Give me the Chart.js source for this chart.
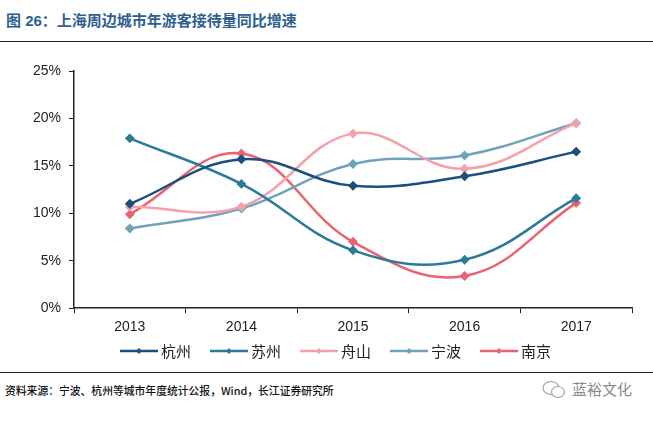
<!DOCTYPE html>
<html>
<head>
<meta charset="utf-8">
<script src="https://cdn.jsdelivr.net/npm/chart.js@4.4.0/dist/chart.umd.min.js"></script>
<style>
    body { margin: 0; width: 653px; height: 421px; background: #fff; position: relative; overflow: hidden;
           font-family: "Liberation Sans", Arial, "Noto Sans CJK SC", sans-serif; }
    .title { position: absolute; left: 6px; top: 9px; font-size: 15px; font-weight: bold; color: #2f5f8f;
             font-family: "Liberation Sans", "Noto Sans CJK SC", sans-serif; }
    .rule { position: absolute; left: 0; width: 653px; height: 1px; background: #222; }
    .chart-box { position: absolute; left: 0; top: 45px; width: 653px; height: 299px; }
    .legend { position: absolute; top: 340px; left: 0; width: 635px; padding-left: 18px; display: flex; justify-content: center;
              font-size: 15px; color: #222; font-family: "Noto Sans CJK SC", sans-serif; }
    .legend .item { display: flex; align-items: center; margin: 0 9.5px; }
    .legend svg { margin-right: 3px; }
    .source { position: absolute; left: 5px; top: 382px; font-size: 10.8px; font-weight: 500; color: #111;
              font-family: "Noto Sans CJK SC", sans-serif; }
    .icon { position: absolute; left: 541px; top: 380px; }
    .mark { position: absolute; left: 572px; top: 378px; font-size: 15px; color: #8a8a8a;
            font-family: "Noto Sans CJK SC", sans-serif; }
</style>
</head>
<body>
<div class="title">图 26：上海周边城市年游客接待量同比增速</div>
<div class="rule" style="top:41px"></div>
<div class="chart-box"><canvas id="growthChart"></canvas></div>
<div class="legend" id="legend"></div>
<div class="rule" style="top:372px"></div>
<div class="source">资料来源：宁波、杭州等城市年度统计公报，Wind，长江证券研究所</div>
<svg class="icon" width="26" height="20">
    <ellipse cx="10" cy="8" rx="8" ry="6.5" fill="none" stroke="#a0a0a0" stroke-width="1.2"/>
    <ellipse cx="17" cy="12" rx="6.5" ry="5.5" fill="#fff" stroke="#a0a0a0" stroke-width="1.2"/>
</svg>
<div class="mark">蓝裕文化</div>
<script>
const years = ['2013', '2014', '2015', '2016', '2017'];
const cities = ['杭州', '苏州', '舟山', '宁波', '南京'];
const colors = ['#1c4f7c', '#2b7b98', '#f2a2aa', '#6fa3bb', '#e8646f'];

const hangzhou = [11.0, 15.7, 12.9, 13.9, 16.5];
const suzhou   = [17.9, 13.1, 6.1, 5.1, 11.6];
const zhoushan = [10.7, 10.7, 18.4, 14.7, 19.5];
const ningbo   = [8.4, 10.5, 15.2, 16.1, 19.5];
const nanjing  = [9.9, 16.3, 7.0, 3.4, 11.1];

const yTicks = [0, 5, 10, 15, 20, 25];

const seriesValues = [hangzhou, suzhou, zhoushan, ningbo, nanjing];

// legend, drawn as html
document.getElementById('legend').innerHTML = cities.map((c, i) =>
    `<span class="item"><svg width="38" height="8"><line x1="0" y1="4" x2="38" y2="4" stroke="${colors[i]}" stroke-width="2.5"/>` +
    `<path d="M19 1 L22 4 L19 7 L16 4 Z" fill="${colors[i]}"/></svg>${c}</span>`
).join('');

const tickFont = { family: '"Liberation Sans", Arial, sans-serif', size: 14 };

new Chart(document.getElementById('growthChart'), {
    type: 'line',
    data: {
        labels: years,
        datasets: cities.map((c, i) => ({
            label: c,
            data: seriesValues[i],
            borderColor: colors[i],
            backgroundColor: colors[i],
            borderWidth: 2.5,
            tension: 0.4,
            pointStyle: 'rectRot',
            pointRadius: 3.2,
            pointHoverRadius: 3.2
        }))
    },
    options: {
        responsive: true,
        maintainAspectRatio: false,
        animation: false,
        layout: { padding: { left: 25, right: 21, top: 26, bottom: 2 } },
        plugins: {
            legend: { display: false },
            tooltip: { enabled: false }
        },
        scales: {
            x: {
                offset: true,
                grid: { offset: true, drawOnChartArea: false, drawTicks: true, tickLength: 5, color: '#222' },
                border: { color: '#222', width: 1.5 },
                ticks: { color: '#222', font: tickFont, padding: 6 }
            },
            y: {
                min: 0,
                max: 25,
                afterBuildTicks: axis => { axis.ticks = yTicks.map(v => ({ value: v })); },
                grid: { drawOnChartArea: false, drawTicks: true, tickLength: 5, color: '#222' },
                border: { color: '#222', width: 1.5 },
                ticks: { color: '#222', font: tickFont, padding: 8, callback: v => v + '%' }
            }
        }
    }
});
</script>
</body>
</html>
